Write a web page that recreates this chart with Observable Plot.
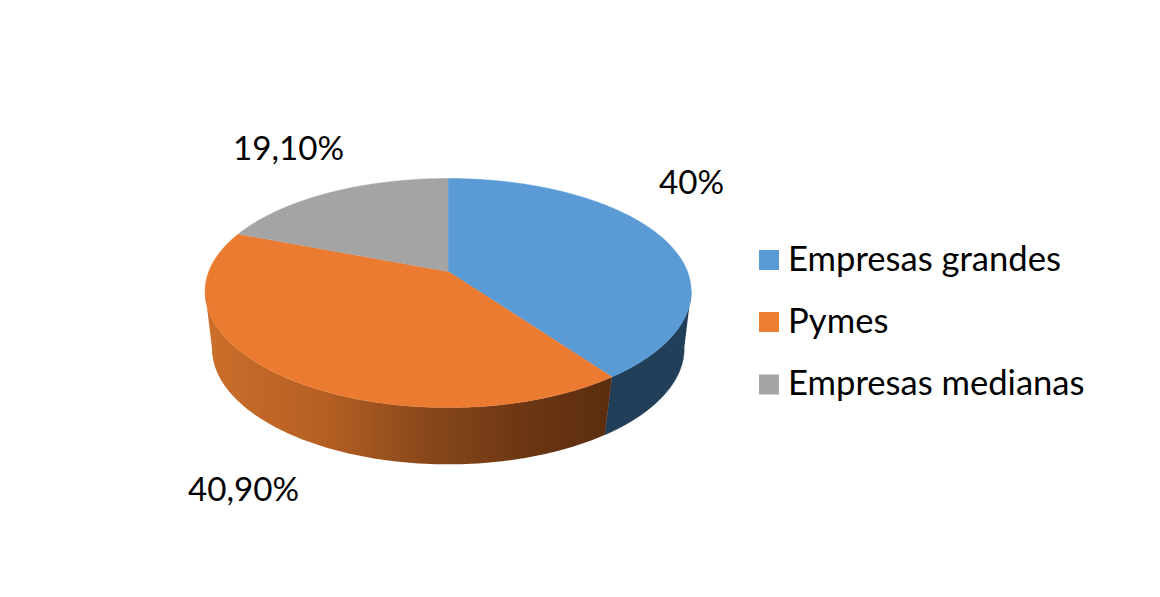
<!DOCTYPE html>
<html lang="es">
<head>
<meta charset="utf-8">
<title>Empresas</title>
<script src="https://cdn.jsdelivr.net/npm/d3@7"></script>
<script src="https://cdn.jsdelivr.net/npm/@observablehq/plot@0.6"></script>
<style>
  html, body { margin: 0; padding: 0; background: #fff; overflow: hidden; }
  svg { display: block; }
</style>
</head>
<body>
<div id="chart"></div>
<script>
// Data
const categories = ["Empresas grandes", "Pymes", "Empresas medianas"];
const shares = [40, 40.9, 19.1];
const shareLabels = ["40%", "40,90%", "19,10%"];

// Styles
const topColors = ["#5B9BD5", "#EB7B31", "#A4A4A4"];
const legendColors = ["#5B9BD5", "#ED7D31", "#A5A5A5"];
const blueWall = "#223F59";
const orangeWallStops = [[0, "#CC6F2B"], [0.3, "#B35F22"], [0.55, "#88471B"], [0.8, "#6B3613"], [1, "#5B2D10"]];

// Layout (pixels of the figure)
const W = 1160, H = 597;
const cx = 447.6;
const topDisc = {cy: 271, a: 239.3, b: 110.5, m: 0.188, mx: 0.175};
const baseDisc = {cy: 330.6, a: 233.2, b: 110.6, m: 0.17, mx: 0.155};
const labelAnchors = [[658.5, 193], [187.5, 500], [232.5, 159]];
const labelFont = 33.2;
const legendFont = 34.6;
const legendX = 759, legendBox = 20, legendTextX = 787.6;
const legendTops = [250, 312, 374.5];
const legendBaselines = [270, 332, 394];

// Perspective projection of a point at clock angle (radians) on a disc
const at = (disc, angle) => {
  const s = Math.sin(angle), f = -Math.cos(angle);
  return {x: cx + disc.a * s / (1 - disc.mx * f), y: disc.cy + disc.b * f / (1 - disc.m * f)};
};
const arc = (disc, a0, a1) => {
  const n = Math.max(2, Math.ceil(Math.abs(a1 - a0) / 0.01));
  return d3.range(n + 1).map(i => at(disc, a0 + (a1 - a0) * i / n));
};

const arcs = d3.pie().sort(null).value(d => d)(shares);

const tops = arcs.map((s, i) => [{x: cx, y: topDisc.cy}, ...arc(topDisc, s.startAngle, s.endAngle)]);

const rightTangent = d => Math.PI / 2 + Math.asin(d.mx);
const leftTangent = d => 3 * Math.PI / 2 - Math.asin(d.mx);
const wall = (a0, a1, b0, b1) => [...arc(topDisc, a0, a1), ...arc(baseDisc, b1, b0)];
const boundary = arcs[0].endAngle;
const blueWallPts = wall(rightTangent(topDisc), boundary, rightTangent(baseDisc), boundary);
const orangeWallPts = wall(boundary, leftTangent(topDisc), boundary, leftTangent(baseDisc));

const defs = () => {
  const d = d3.create("svg:defs");
  const g = d.append("linearGradient").attr("id", "orangeWall").attr("x1", 0).attr("x2", 1).attr("y1", 0).attr("y2", 0);
  orangeWallStops.forEach(([o, c]) => g.append("stop").attr("offset", o).attr("stop-color", c));
  return d.node();
};

const poly = (pts, fill, stroke) => Plot.line(pts, {x: "x", y: "y", fill, stroke: stroke || fill, strokeWidth: 0.5, curve: "linear"});

const labels = shareLabels.map((text, i) => ({text, x: labelAnchors[i][0], y: labelAnchors[i][1]}));
const legendRows = categories.map((name, i) => ({
  name, color: legendColors[i], top: legendTops[i], base: legendBaselines[i]
}));

const fontFamily = "Lato, Carlito, Calibri, sans-serif";

const chart = Plot.plot({
  width: W, height: H,
  margin: 0,
  style: {background: "#fff", fontFamily},
  x: {domain: [0, W], range: [0, W], axis: null},
  y: {domain: [0, H], range: [0, H], axis: null},
  marks: [
    defs,
    poly(blueWallPts, blueWall),
    poly(orangeWallPts, "url(#orangeWall)", "none"),
    ...tops.map((pts, i) => poly(pts, topColors[i])),
    Plot.text(labels, {
      x: "x", y: "y", text: "text", textAnchor: "start", lineAnchor: "bottom",
      fontSize: labelFont, fill: "#000", fontFamily
    }),
    Plot.rect(legendRows, {
      x1: () => legendX, x2: () => legendX + legendBox,
      y1: "top", y2: d => d.top + legendBox, fill: "color"
    }),
    Plot.text(legendRows, {
      x: () => legendTextX, y: "base", text: "name", textAnchor: "start", lineAnchor: "bottom",
      fontSize: legendFont, fill: "#000", fontFamily
    })
  ]
});
document.getElementById("chart").append(chart);
</script>
</body>
</html>
